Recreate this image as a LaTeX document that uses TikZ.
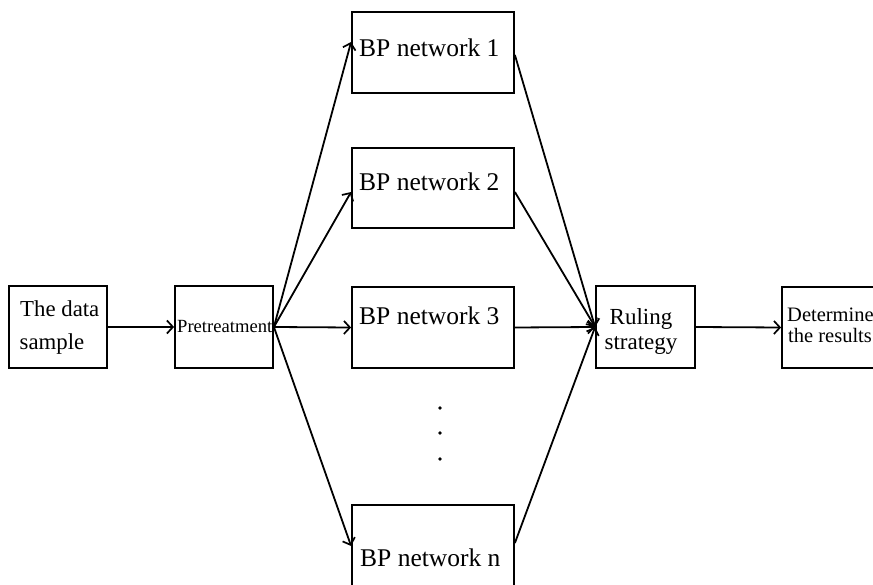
\documentclass[tikz,border=0pt]{standalone}
\usepackage{fontspec}
\setmainfont{Liberation Serif}
\usetikzlibrary{arrows.meta}
\tikzset{
  box/.style={draw, line width=1.8pt, rectangle, inner sep=0pt},
  conn/.style={line width=1.8pt, -{Straight Barb[length=6pt,width=13pt,line width=1.7pt]}},
  txt/.style={inner sep=0pt, anchor=base west},
  txtc/.style={inner sep=0pt, anchor=base},
}
\begin{document}
\begin{tikzpicture}[x=1pt,y=-1pt]
\useasboundingbox (0,0) rectangle (873,585);
% boxes
\node[box, minimum width=98pt, minimum height=82pt] (ds) at (58,327) {};
\node[box, minimum width=98pt, minimum height=82pt] (pre) at (224,327) {};
\node[box, minimum width=162pt, minimum height=81pt] (bp1) at (433,52.5) {};
\node[box, minimum width=162pt, minimum height=80pt] (bp2) at (433,188) {};
\node[box, minimum width=162pt, minimum height=81pt] (bp3) at (433,327.5) {};
\node[box, minimum width=162pt, minimum height=82pt] (bpn) at (433,546) {};
\node[box, minimum width=99pt, minimum height=82pt] (rs) at (645.5,327) {};
\node[box, minimum width=98pt, minimum height=81pt] (det) at (831,327.5) {};
% texts
\node[txt, font=\fontsize{22.8}{27}\selectfont] (t1) at (20,317) {The data};
\node[txt, font=\fontsize{22.8}{27}\selectfont] (t2) at (19.5,350) {sample};
\node[txt, font=\fontsize{18.6}{22}\selectfont] (t3) at (177,333) {Pretreatment};
\node[txt, font=\fontsize{25.5}{30}\selectfont] (t4) at (359,57) {BP network 1};
\node[txt, font=\fontsize{25.5}{30}\selectfont] (t5) at (359,191) {BP network 2};
\node[txt, font=\fontsize{25.5}{30}\selectfont] (t6) at (359,325) {BP network 3};
\node[txt, font=\fontsize{25.5}{30}\selectfont] (t7) at (360,566) {BP network n};
\node[txtc, font=\fontsize{23}{27}\selectfont] (t8) at (641,325) {Ruling};
\node[txtc, font=\fontsize{23}{27}\selectfont] (t9) at (641,350) {strategy};
\node[txt, font=\fontsize{20.5}{24}\selectfont] (t10) at (787,322) {Determine};
\node[txt, font=\fontsize{20.5}{24}\selectfont] (t11) at (788,343) {the results};
% dots
\fill (440,408) circle (1.9pt);
\fill (440,433) circle (1.9pt);
\fill (440,459) circle (1.9pt);
% connectors
\draw[conn] (ds.east) -- (pre.west);
\draw[conn] (pre.east) -- ([yshift=10.5pt]bp1.west);
\draw[conn] (pre.east) -- ([yshift=-4pt]bp2.west);
\draw[conn] (pre.east) -- (bp3.west);
\draw[conn] (pre.east) -- (bpn.west);
\draw[conn] ([yshift=-2.5pt]bp1.east) -- (rs.west);
\draw[conn] ([yshift=-4pt]bp2.east) -- (rs.west);
\draw[conn] (bp3.east) -- (rs.west);
\draw[conn] ([yshift=3pt]bpn.east) -- (rs.west);
\draw[conn] (rs.east) -- (det.west);
\end{tikzpicture}
\end{document}
